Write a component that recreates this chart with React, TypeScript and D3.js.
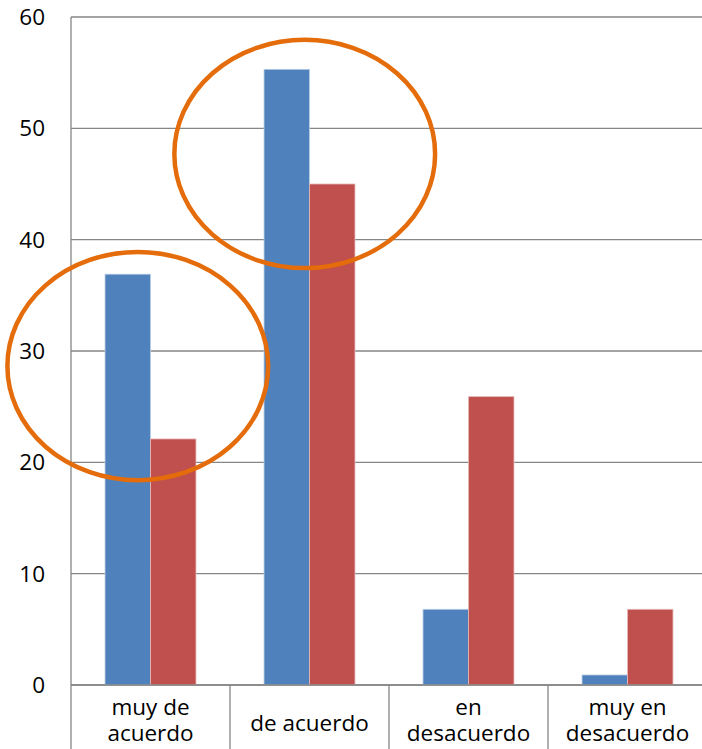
import React from "react";
import * as d3 from "d3";

const categories: string[][] = [["muy de", "acuerdo"], ["de acuerdo"], ["en", "desacuerdo"], ["muy en", "desacuerdo"]];
const seriesA: number[] = [36.9, 55.3, 6.8, 0.9];
const seriesB: number[] = [22.1, 45.0, 25.9, 6.8];
const yTicks: number[] = [0, 10, 20, 30, 40, 50, 60];
// annotation ellipses in data units: category index center offset, value center, radius in bands, radius in value units
const ellipseCat: number[] = [0, 1];
const ellipseDx: number[] = [-0.08, -0.03];
const ellipseCy: number[] = [28.65, 47.7];
const ellipseRx: number[] = [0.82, 0.82];
const ellipseRy: number[] = [10.25, 10.25];

export default function App() {
  const W = 702, H = 749;
  const left = 71, right = 707, top = 17, bottom = 685;
  const idx = categories.map((_, i) => String(i));
  const x = d3.scaleBand<string>().domain(idx).range([left, right]).paddingInner(0).paddingOuter(0);
  const bw = x.bandwidth();
  const groupPad = 0.214;
  const inner = d3.scaleBand<string>().domain(["a", "b"]).range([bw * groupPad, bw * (1 - groupPad)]).padding(0);
  const y = d3.scaleLinear().domain([0, 60]).range([bottom, top]);
  const font = "'Open Sans', sans-serif";
  const fs = 22.5;
  const blue = "#4F81BD", red = "#C0504D", orange = "#E46C0A", grid = "#868686";
  return (
    <svg width={W} height={H} style={{ position: "absolute", left: 0, top: 0, background: "#fff" }}>
      {yTicks.map((t) => (
        <g key={t}>
          <line x1={left} x2={right} y1={y(t)} y2={y(t)} stroke={grid} strokeWidth={1.3} />
          <text x={45} y={y(t)} dy="0.36em" textAnchor="end" fontFamily={font} fontSize={fs} fill="#000">{t}</text>
        </g>
      ))}
      {categories.map((c, i) => {
        const x0 = x(String(i))!;
        return (
          <g key={i}>
            <rect x={x0 + inner("a")!} y={y(seriesA[i])} width={inner.bandwidth()} height={y(0) - y(seriesA[i])} fill={blue} stroke="#B9CDE5" strokeWidth={0.8} />
            <rect x={x0 + inner("b")!} y={y(seriesB[i])} width={inner.bandwidth()} height={y(0) - y(seriesB[i])} fill={red} stroke="#E6B9B8" strokeWidth={0.8} />
            <text textAnchor="middle" fontFamily={font} fontSize={fs} fill="#000">
              {c.map((line, j) => (
                <tspan key={j} x={x0 + bw / 2} y={(c.length === 1 ? 723 : 707 + j * 26) + 7.5}>{line}</tspan>
              ))}
            </text>
          </g>
        );
      })}
      <line x1={left} x2={left} y1={top} y2={H} stroke={grid} strokeWidth={1.3} />
      <line x1={left} x2={right} y1={bottom} y2={bottom} stroke={grid} strokeWidth={1.3} />
      {categories.slice(1).map((_, i) => {
        const xx = x(String(i + 1))!;
        return <line key={i} x1={xx} x2={xx} y1={bottom} y2={H} stroke={grid} strokeWidth={1.3} />;
      })}
      {ellipseCat.map((c, i) => (
        <ellipse key={i}
          cx={x(String(c))! + bw / 2 + ellipseDx[i] * bw}
          cy={y(ellipseCy[i])}
          rx={ellipseRx[i] * bw}
          ry={y(0) - y(ellipseRy[i])}
          fill="none" stroke={orange} strokeWidth={4.5} />
      ))}
    </svg>
  );
}
